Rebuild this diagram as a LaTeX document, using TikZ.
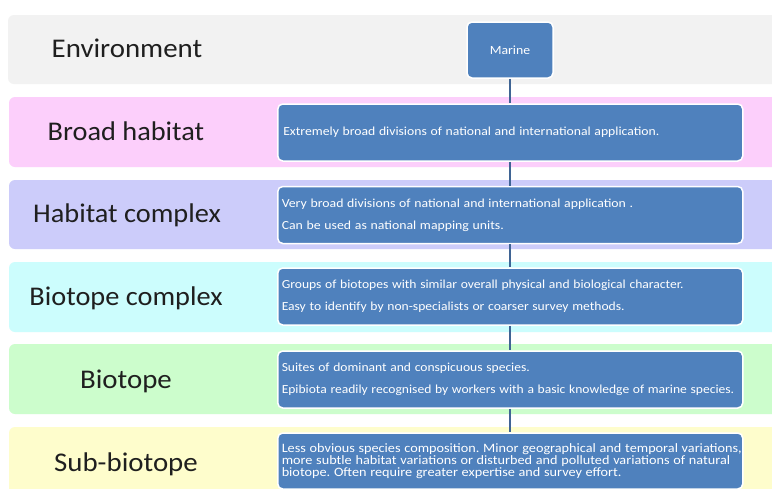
\documentclass[tikz,border=0pt]{standalone}
\usepackage{graphicx}
\usepackage{fontspec}
\setmainfont{Carlito}
\newfontfamily\boxfont{Carlito}[WordSpace=0.6]
\frenchspacing
\definecolor{boxblue}{HTML}{4F81BD}
\definecolor{linkblue}{HTML}{3F6494}
\definecolor{bandgray}{HTML}{F2F2F2}
\definecolor{bandpink}{HTML}{FCCFFB}
\definecolor{bandlav}{HTML}{CCCCFA}
\definecolor{bandcyan}{HTML}{CCFDFD}
\definecolor{bandgreen}{HTML}{CCFDCC}
\definecolor{bandyellow}{HTML}{FEFDCC}
\newcommand\xs[2]{\scalebox{#1}[1]{#2}}
% #1 x-scale, #2 font size, #3 line pitch, #4 rows separated by \cr
\newcommand\rows[4]{\xs{#1}{\vbox{\boxfont\fontsize{#2}{#3}\selectfont
  \baselineskip=#3\lineskiplimit=-20pt\halign{##\hfil\cr #4\crcr}}}}
\begin{document}
\begin{tikzpicture}[x=1pt,y=-1pt,
  band/.style={rounded corners=6pt, fill=#1},
  level/.style={font=\fontsize{27}{30}\selectfont, text=black!88, anchor=base},
  descbox/.style={draw=white, line width=1.5pt, fill=boxblue, rounded corners=5pt,
    text=white, align=left, anchor=west, inner xsep=4pt, inner ysep=2pt,
    text width=457pt, minimum width=465pt, minimum height=57pt},
  link/.style={draw=linkblue, line width=2.2pt}]
\useasboundingbox (0,0) rectangle (772,488);
\clip (0,0) rectangle (772,488);
\fill[white] (0,0) rectangle (772,488);
% bands
\path[band=bandgray]   (8,15)  rectangle (790,84);
\path[band=bandpink]   (9,97)  rectangle (790,167);
\path[band=bandlav]    (9,180) rectangle (790,249);
\path[band=bandcyan]   (9,262) rectangle (790,332);
\path[band=bandgreen]  (9,344) rectangle (790,414);
\path[band=bandyellow] (9,427) rectangle (790,500);
% level labels
\node[level] (lenv) at (127,57.5) {\xs{1.07}{Environment}};
\node[level] (lbroad) at (126,140) {\xs{1.05}{Broad habitat}};
\node[level] (lhabc) at (127,222) {\xs{1.05}{Habitat complex}};
\node[level] (lbioc) at (126,305) {\xs{1.05}{Biotope complex}};
\node[level] (lbio) at (126,388) {\xs{1.07}{Biotope}};
\node[level] (lsub) at (126,471) {\xs{1.07}{Sub-biotope}};
% boxes
\node[draw=white, line width=1.5pt, fill=boxblue, rounded corners=5pt, text=white,
  minimum width=86pt, minimum height=56pt, font=\fontsize{12.5}{13}\selectfont]
  (marine) at (510,50) {\xs{1.1}{Marine}};
\node[descbox] (bbroad) at (277,132.5) {\hspace*{1.5pt}\rows{1.112}{12.3}{22pt}{Extremely broad divisions of national and international application.}};
\node[descbox] (bhabc) at (277,215) {\rows{1.12}{12.3}{22pt}{Very broad divisions of national and international application .\cr Can be used as national mapping units.}};
\node[descbox] (bbioc) at (277,296.5) {\rows{1.105}{12.3}{22pt}{Groups of biotopes with similar overall physical and biological character.\cr Easy to identify by non-specialists or coarser survey methods.}};
\node[descbox] (bbio) at (277,379.5) {\rows{1.103}{12.3}{22pt}{Suites of dominant and conspicuous species.\cr Epibiota readily recognised by workers with a basic knowledge of marine species.}};
\node[descbox, minimum height=56pt, inner xsep=2pt] (bsub) at (277,461) {\rows{1.113}{12.8}{11.7pt}{Less obvious species composition. Minor geographical and temporal variations,\cr more subtle habitat variations or disturbed and polluted variations of natural\cr biotope. Often require greater expertise and survey effort.}};
% connectors
\path[link] (marine.south -| 510,0) -- (bbroad.north -| 510,0);
\path[link] (bbroad.south -| 510,0) -- (bhabc.north -| 510,0);
\path[link] (bhabc.south -| 510,0) -- (bbioc.north -| 510,0);
\path[link] (bbioc.south -| 510,0) -- (bbio.north -| 510,0);
\path[link] (bbio.south -| 510,0) -- (bsub.north -| 510,0);
\end{tikzpicture}
\end{document}
